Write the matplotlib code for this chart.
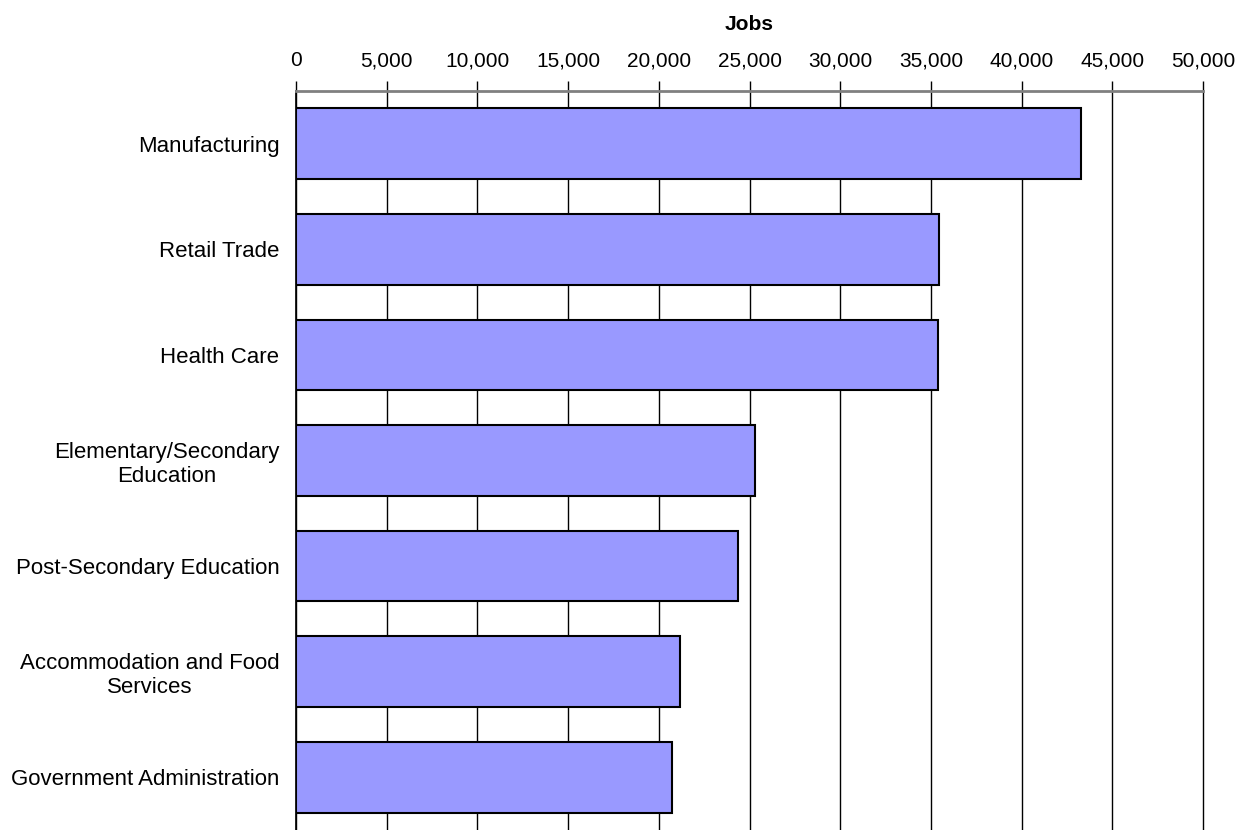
import matplotlib.pyplot as plt
from matplotlib.ticker import FuncFormatter

# Jobs by industry
industries = [
    "Manufacturing",
    "Retail Trade",
    "Health Care",
    "Elementary/Secondary\nEducation",
    "Post-Secondary Education",
    "Accommodation and Food\nServices",
    "Government Administration",
]
jobs = [43290, 35420, 35370, 25300, 24380, 21180, 20700]
x_ticks = [0, 5000, 10000, 15000, 20000, 25000, 30000, 35000, 40000, 45000, 50000]


def main():
    plt.rcParams["font.family"] = ["Liberation Sans", "DejaVu Sans"]

    fig = plt.figure(figsize=(12.4, 8.3), dpi=100)
    ax = fig.add_axes([0.2387, 0.0, 0.7315, 0.8904])

    pos = list(range(len(industries)))
    ax.barh(pos, jobs, height=0.67, color="#9999FF",
            edgecolor="black", linewidth=1.5, zorder=3)

    ax.set_ylim(len(industries) - 0.5, -0.5)
    ax.set_xlim(0, 50000)
    ax.set_yticks(pos)
    ax.set_yticklabels(industries, fontsize=16, multialignment="center")
    ax.tick_params(axis="y", length=0, pad=12)

    # x axis on top
    ax.xaxis.set_ticks_position("top")
    ax.xaxis.set_label_position("top")
    ax.set_xticks(x_ticks)
    ax.xaxis.set_major_formatter(FuncFormatter(lambda v, p: f"{int(v):,}"))
    ax.tick_params(axis="x", direction="out", length=7, width=1,
                   labelsize=15, pad=8, color="black")
    ax.set_xlabel("Jobs", fontsize=15, fontweight="bold", labelpad=15)

    ax.grid(axis="x", color="black", linewidth=1, zorder=0)
    for line in ax.get_xgridlines():
        line.set_clip_on(False)
    ax.set_axisbelow(True)

    for side in ["right", "bottom"]:
        ax.spines[side].set_visible(False)
    ax.spines["top"].set_color("#808080")
    ax.spines["top"].set_linewidth(2)
    ax.spines["left"].set_color("black")
    ax.spines["left"].set_linewidth(1.2)

    fig.savefig("out.png", dpi=100)


if __name__ == "__main__":
    main()
